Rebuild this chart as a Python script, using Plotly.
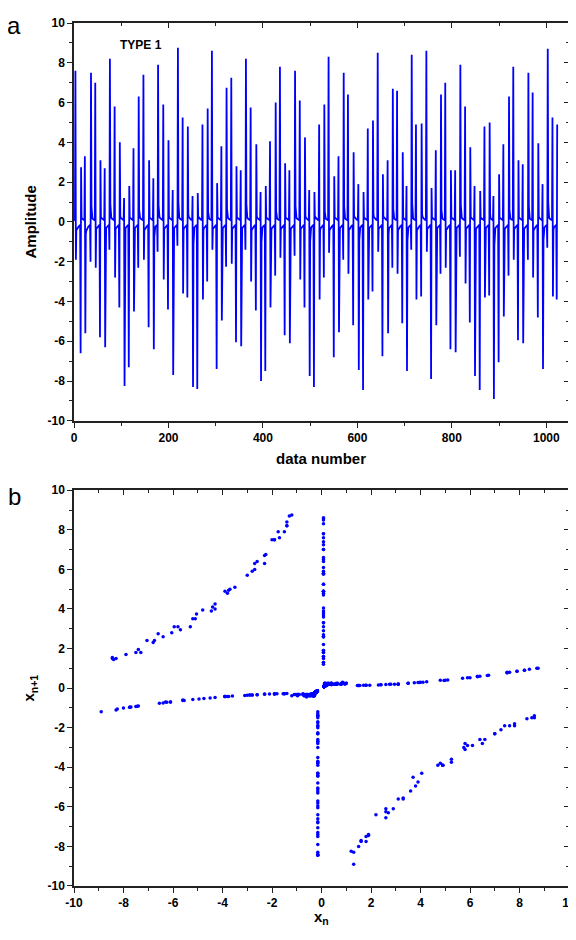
import plotly.graph_objects as go

# spike events: start index, first value, second value, value right after
event_idx = [3, 14, 23, 35, 45, 55, 65, 75, 86, 96,
             106, 116, 126, 136, 147, 158, 168, 177, 189, 199,
             209, 219, 230, 240, 251, 261, 272, 282, 292, 302,
             312, 322, 333, 343, 353, 363, 374, 385, 395, 405,
             415, 426, 436, 446, 456, 467, 478, 488, 498, 508,
             519, 529, 539, 550, 560, 570, 580, 591, 602, 612,
             622, 632, 643, 653, 664, 674, 684, 695, 704, 714,
             724, 735, 746, 756, 766, 776, 786, 797, 807, 817,
             828, 838, 848, 859, 869, 879, 888, 899, 909, 920,
             930, 940, 950, 961, 971, 982, 992, 1002, 1013, 1022]

first_val = [7.6, -6.6, 3.3, -2.0, 7.0, -5.8, 2.7, -1.4, 5.8, -4.3,
             1.2, -7.3, 3.7, -2.3, 7.4, -5.3, 2.2, -1.5, 5.9, -4.4,
             1.6, -1.2, 5.25, -3.8, 1.3, -8.4, 4.9, -3.0, 8.6, -7.4,
             3.8, -2.25, 7.25, -6.05, 2.6, -1.4, 5.75, -4.45, 1.5, -7.5,
             4.05, -2.7, 7.8, -5.7, 2.6, -1.7, 6.1, -4.3, 1.6, -8.3,
             4.9, -2.8, 8.3, -6.8, 3.3, -1.9, 6.4, -5.2, 1.9, -8.45,
             4.7, -3.5, 8.5, -6.75, 3.1, -2.3, 6.6, -5.1, 1.8, -1.4,
             4.9, -3.75, 8.6, -7.9, 3.6, -2.6, 7.0, -6.4, 2.6, -1.75,
             5.8, -5.05, 1.8, -8.45, 4.8, -3.7, 1.3, -7.05, 3.9, -2.7,
             7.8, -5.95, 2.9, -1.9, 6.5, -4.8, 1.9, -1.3, 5.25, -3.9]

second_val = [-1.9, 2.75, -5.6, 7.5, -2.3, 3.1, -6.3, 8.2, -2.8, 4.0,
              -8.25, 1.8, -4.5, 6.3, -1.9, 3.1, -6.4, 7.9, -2.9, 4.1,
              -7.7, 8.75, -3.6, 4.8, -8.3, 1.45, -3.9, 5.7, -1.4, 1.95,
              -4.95, 6.75, -2.1, 2.8, -6.25, 8.2, -3.0, 3.9, -8.0, 1.8,
              -4.3, 6.0, -1.8, 2.95, -6.1, 7.6, -2.9, 4.25, -7.75, 1.5,
              -3.9, 5.9, -1.55, 2.3, -5.55, 7.5, -2.6, 3.5, -7.45, 1.5,
              -3.9, 5.1, -1.5, 2.4, -5.6, 6.7, -2.6, 3.5, -7.5, 8.4,
              -3.9, 4.95, -1.5, 1.7, -5.2, 6.4, -2.3, 2.6, -6.55, 7.9,
              -3.1, 3.75, -7.75, 1.55, -3.8, 5.0, -8.9, 2.4, -4.75, 6.3,
              -1.9, 3.1, -6.1, 7.5, -2.8, 3.95, -7.4, 8.7, -3.75, 4.9]

post_val = [-0.3, 0.2, -0.6, 0.8, -0.3, 0.2, -0.7, 0.9, -0.35, 0.3,
            -1.05, 0.15, -0.5, 0.6, -0.3, 0.2, -0.75, 0.85, -0.35, 0.3,
            -0.95, 1.0, -0.4, 0.4, -1.1, 0.13, -0.43, 0.5, -0.27, 0.15,
            -0.55, 0.65, -0.3, 0.2, -0.72, 0.9, -0.36, 0.28, -1.0, 0.14,
            -0.47, 0.53, -0.29, 0.2, -0.7, 0.8, -0.35, 0.32, -0.97, 0.13,
            -0.43, 0.52, -0.28, 0.16, -0.62, 0.78, -0.33, 0.25, -0.92, 0.13,
            -0.43, 0.41, -0.28, 0.17, -0.63, 0.64, -0.33, 0.25, -0.93, 0.95,
            -0.43, 0.39, -0.28, 0.14, -0.57, 0.6, -0.31, 0.18, -0.76, 0.85,
            -0.37, 0.27, -0.97, 0.13, -0.42, 0.4, -1.2, 0.17, -0.52, 0.58,
            -0.29, 0.21, -0.7, 0.78, -0.35, 0.29, -0.9, 1.0, -0.42, 0.39]

# baseline between spikes, last values sit just before the next spike
base_pos = [0.3, 0.25, 0.2, 0.17, 0.15, 0.13, 0.11, 0.1, 0.08]
base_neg = [-0.45, -0.38, -0.32, -0.28, -0.25, -0.22, -0.2, -0.17, -0.15]

# tick labels
x_ticks_a = [0, 200, 400, 600, 800, 1000]
xy_ticks = [-10, -8, -6, -4, -2, 0, 2, 4, 6, 8, 10]

n_points = 1024
amp = [0.0] * n_points
for i in range(event_idx[0]):
    amp[i] = base_pos[-event_idx[0]:][i]
for k, i in enumerate(event_idx):
    amp[i] = first_val[k]
    if i + 1 < n_points:
        amp[i + 1] = second_val[k]
    if i + 2 < n_points:
        amp[i + 2] = post_val[k]
    end = event_idx[k + 1] if k + 1 < len(event_idx) else n_points
    fill = base_pos if second_val[k] > 0 else base_neg
    count = end - (i + 3)
    if count > 0:
        seg = fill[-count:]
        for j in range(count):
            amp[i + 3 + j] = seg[j]

idx = list(range(n_points))
xn = amp[:-1]
xn1 = amp[1:]

blue = "#0000FF"
fig = go.Figure()
fig.add_trace(go.Scatter(x=idx, y=amp, mode="lines",
                         line=dict(color=blue, width=1.8),
                         xaxis="x", yaxis="y", showlegend=False))
fig.add_trace(go.Scatter(x=xn, y=xn1, mode="markers",
                         marker=dict(color=blue, size=3.5),
                         xaxis="x2", yaxis="y2", showlegend=False))
# empty traces so the inward tick axes on top/right get drawn
fig.add_trace(go.Scatter(x=[None], y=[None], xaxis="x3", yaxis="y3", showlegend=False))
fig.add_trace(go.Scatter(x=[None], y=[None], xaxis="x4", yaxis="y4", showlegend=False))

tickfont = dict(family="Arial", size=12, color="black")
bold = lambda vals: ["<b>%d</b>" % v for v in vals]
common = dict(showgrid=False, zeroline=False, showline=True, linecolor="#222",
              linewidth=1.5, ticks="outside", ticklen=5, tickwidth=1.2,
              tickcolor="#222", tickfont=tickfont, mirror=True)
inner = dict(showgrid=False, zeroline=False, showline=False, ticks="inside",
             ticklen=5, tickwidth=1.2, tickcolor="#222", showticklabels=False)
minor_out = dict(ticklen=3, ticks="outside", tickcolor="#222")
minor_in = dict(ticklen=3, ticks="inside", tickcolor="#222")

top_dom = [0.539, 1.0]
bot_dom = [0.0, 0.4586]

# the page adds an 8px body margin on the left and top
fig.update_layout(
    width=576, height=940,
    margin=dict(l=66, r=15, t=8, b=62),
    plot_bgcolor="white", paper_bgcolor="white",
    xaxis=dict(common, range=[0, 1048], tickvals=x_ticks_a, ticktext=bold(x_ticks_a),
               anchor="y", minor=dict(minor_out, dtick=100)),
    yaxis=dict(common, range=[-10, 10], tickvals=xy_ticks, ticktext=bold(xy_ticks),
               domain=top_dom, anchor="x", minor=dict(minor_out, dtick=1)),
    xaxis2=dict(common, range=[-10, 10], tickvals=xy_ticks, ticktext=bold(xy_ticks),
                anchor="y2", minor=dict(minor_out, dtick=1)),
    yaxis2=dict(common, range=[-10, 10], tickvals=xy_ticks, ticktext=bold(xy_ticks),
                domain=bot_dom, anchor="x2", minor=dict(minor_out, dtick=1)),
    xaxis3=dict(inner, range=[0, 1048], dtick=200, overlaying="x", side="top", anchor="y3",
                minor=dict(minor_in, dtick=100)),
    yaxis3=dict(inner, range=[-10, 10], dtick=2, overlaying="y", side="right", anchor="x3",
                minor=dict(minor_in, dtick=1)),
    xaxis4=dict(inner, range=[-10, 10], dtick=2, overlaying="x2", side="top", anchor="y4",
                minor=dict(minor_in, dtick=1)),
    yaxis4=dict(inner, range=[-10, 10], dtick=2, overlaying="y2", side="right", anchor="x4",
                minor=dict(minor_in, dtick=1)),
)

title_font = dict(family="Arial", size=15, color="black", weight="bold")
notes = [
    dict(text="a", x=-0.1212, y=0.9966, font=dict(family="Arial", size=24, color="black")),
    dict(text="b", x=-0.1212, y=0.4517, font=dict(family="Arial", size=24, color="black")),
    dict(text="TYPE 1", x=0.1354, y=0.9747, font=dict(family="Arial", size=12, color="black", weight="bold")),
    dict(text="data number", x=0.499, y=0.4954, font=title_font),
    dict(text="Amplitude", x=-0.0889, y=0.770, textangle=-90, font=title_font),
    dict(text="x<sub>n</sub>", x=0.499, y=-0.037, font=title_font),
    dict(text="x<sub>n+1</sub>", x=-0.0889, y=0.2299, textangle=-90, font=title_font),
]
for a in notes:
    fig.add_annotation(xref="paper", yref="paper", showarrow=False,
                       xanchor="center", yanchor="middle", **a)

fig.write_html("out.html")
